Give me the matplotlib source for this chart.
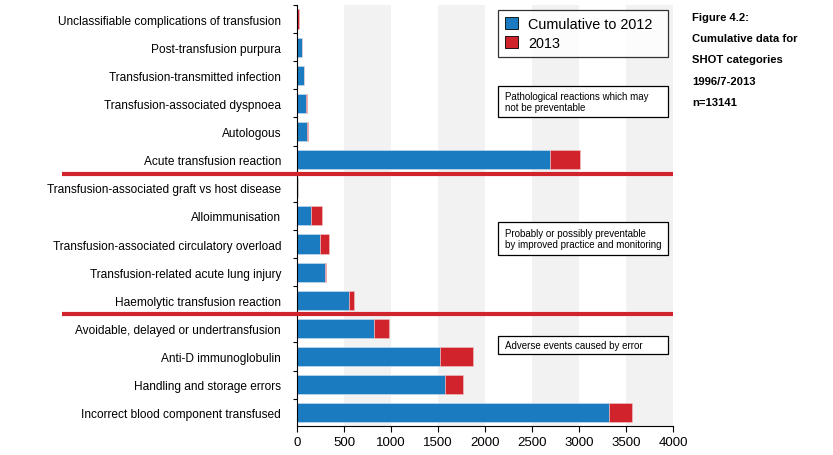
import matplotlib
matplotlib.use("Agg")
import matplotlib.pyplot as plt
import matplotlib.transforms as mtransforms
from matplotlib.patches import Patch, Rectangle

plt.rcParams['font.family'] = ['Liberation Sans', 'DejaVu Sans']

categories = [
    "Unclassifiable complications of transfusion",
    "Post-transfusion purpura",
    "Transfusion-transmitted infection",
    "Transfusion-associated dyspnoea",
    "Autologous",
    "Acute transfusion reaction",
    "Transfusion-associated graft vs host disease",
    "Alloimmunisation",
    "Transfusion-associated circulatory overload",
    "Transfusion-related acute lung injury",
    "Haemolytic transfusion reaction",
    "Avoidable, delayed or undertransfusion",
    "Anti-D immunoglobulin",
    "Handling and storage errors",
    "Incorrect blood component transfused",
]
cum_2012 = [0, 55, 74, 97, 108, 2691, 13, 145, 245, 298, 553, 819, 1518, 1578, 3323]
y2013 = [18, 2, 2, 5, 14, 323, 0, 117, 99, 10, 50, 163, 354, 192, 244]

separators = [5.5, 10.5]
# box top, box bottom (pixels from top), note text
group_notes = [
    (87, 118, "Pathological reactions which may\nnot be preventable"),
    (223, 256, "Probably or possibly preventable\nby improved practice and monitoring"),
    (337, 355, "Adverse events caused by error"),
]
side_text = ["Figure 4.2:", "Cumulative data for", "SHOT categories", "1996/7-2013", "n=13141"]

blue = "#1b7bc0"
red = "#d0232b"
W, H = 833, 456

fig = plt.figure(figsize=(8.33, 4.56), dpi=100)
ax = fig.add_axes([297/W, 29/H, 376/W, 421/H])

for start in [500, 1500, 2500, 3500]:
    ax.axvspan(start, start + 500, color="#f2f2f2", zorder=0, lw=0)

ypos = list(range(len(categories)))
ax.barh(ypos, cum_2012, height=0.68, color=blue, edgecolor="#cfe3f2", linewidth=0.4, zorder=2)
ax.barh(ypos, y2013, left=cum_2012, height=0.68, color=red, edgecolor="#f0c8ca", linewidth=0.4, zorder=2)

ax.set_xlim(0, 4000)
ax.set_ylim(14.47, -0.5)
ax.set_xticks(range(0, 4001, 500))
ax.set_yticks(ypos)
ax.set_yticklabels(categories, fontsize=8.6)
ax.set_yticks([i + 0.5 for i in range(-1, 14)], minor=True)
ax.tick_params(axis='y', which='major', length=0, pad=11.5)
ax.tick_params(axis='y', which='minor', length=3, width=0.8)
ax.tick_params(axis='x', labelsize=9.5, length=4, width=0.8)
for s in ["top", "right"]:
    ax.spines[s].set_visible(False)

trans = mtransforms.blended_transform_factory(ax.transAxes, ax.transData)
for y in separators:
    ax.plot([(62 - 297) / 376, 1.0], [y, y], color=red, lw=3, transform=trans,
            clip_on=False, zorder=5, solid_capstyle="butt")

for top, bottom, txt in group_notes:
    fig.add_artist(Rectangle((498/W, 1 - bottom/H), 170/W, (bottom - top)/H,
                             transform=fig.transFigure, fc="white", ec="black", lw=0.9, zorder=6))
    fig.text(505/W, 1 - (top + bottom)/2/H, txt, fontsize=7.0, va="center", ha="left",
             linespacing=1.05, zorder=7)

handles = [Patch(facecolor=blue, edgecolor="black", lw=0.6),
           Patch(facecolor=red, edgecolor="black", lw=0.6)]
leg = ax.legend(handles, ["Cumulative to 2012", "2013"], loc="upper left", mode="expand",
                bbox_to_anchor=((498 - 297)/376, 0, 170/376, 1 - 5/421), fontsize=10.4,
                frameon=True, fancybox=False, handlelength=0.9, handleheight=0.9,
                handletextpad=0.7, borderpad=0.5, labelspacing=0.3, borderaxespad=0)
leg.get_frame().set_edgecolor("black")
leg.get_frame().set_linewidth(0.9)

for i, line in enumerate(side_text):
    fig.text(692/W, 1 - (18 + 21.2 * i) / H, line, fontsize=8.1, fontweight="bold",
             va="center", ha="left")

fig.savefig("out.png", dpi=100)
